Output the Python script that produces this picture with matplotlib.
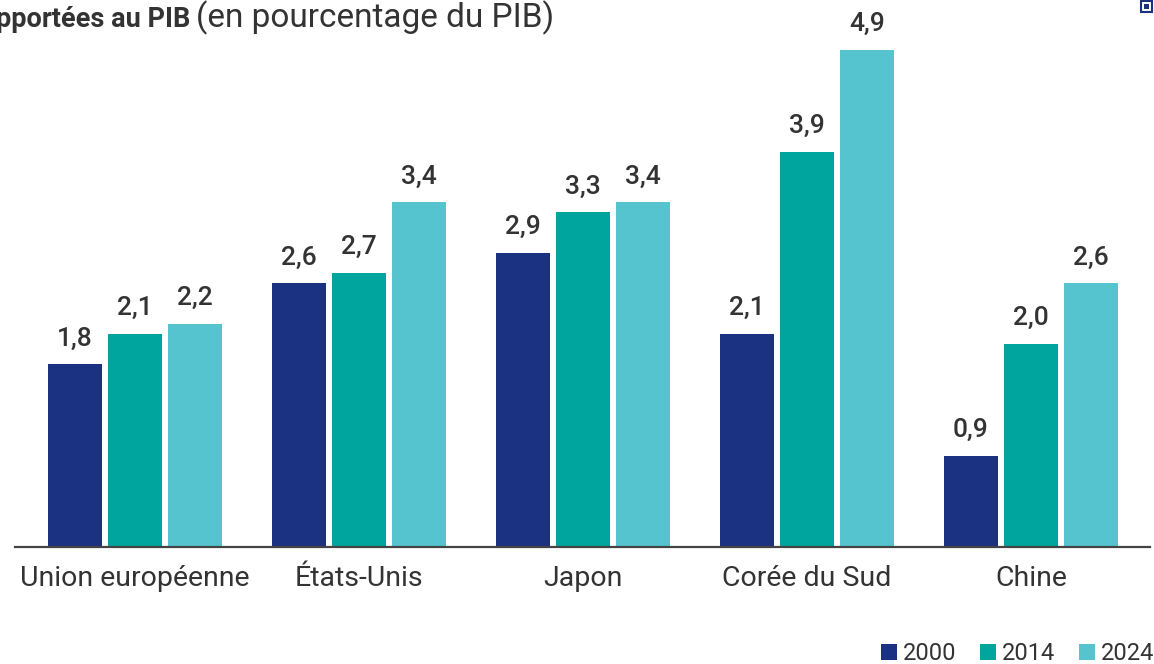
import numpy as np
import matplotlib
matplotlib.use('Agg')
import matplotlib.pyplot as plt
from matplotlib.patches import Rectangle

# données (en % du PIB)
pays = ['Union européenne', 'États-Unis', 'Japon', 'Corée du Sud', 'Chine']
annees = ['2000', '2014', '2024']
v2000 = [1.8, 2.6, 2.9, 2.1, 0.9]
v2014 = [2.1, 2.7, 3.3, 3.9, 2.0]
v2024 = [2.2, 3.4, 3.4, 4.9, 2.6]
couleurs = ['#1b3282', '#00a59d', '#55c4cf']

plt.rcParams['font.family'] = ['Roboto', 'DejaVu Sans']
gris = '#333333'

W, H = 1154, 664
fig = plt.figure(figsize=(W / 100, H / 100), dpi=100)
# axe: ligne de base a y=547 px, 101.4 px par point de PIB
ax = fig.add_axes([0, (H - 547) / H, 1, 547 / H])

x = np.arange(len(pays))
largeur = 54 / 224
pas = 60 / 224
series = [v2000, v2014, v2024]
for i, (vals, c, a) in enumerate(zip(series, couleurs, annees)):
    barres = ax.bar(x + (i - 1) * pas, vals, largeur, color=c, label=a)
    ax.bar_label(barres, labels=[f'{v:.1f}'.replace('.', ',') for v in vals],
                 padding=10, fontsize=19, fontweight='medium', color=gris)

# groupes espaces de 224 px, premier centre a x=135 px
ax.set_xlim(-135 / 224, (W - 135) / 224)
ax.set_ylim(0, 547 / 101.4)
ax.set_xticks(x)
ax.set_xticklabels(pays, fontsize=20.5, color=gris)
ax.tick_params(axis='x', length=0, pad=13)
ax.set_yticks([])
for s in ['top', 'right', 'left']:
    ax.spines[s].set_visible(False)
ax.spines['bottom'].set_color('#444444')
ax.spines['bottom'].set_linewidth(1.6)
ax.spines['bottom'].set_bounds(-120 / 224, 1015 / 224)
ax.patch.set_alpha(0)

# titre (debut coupe comme dans l'original)
fig.text(190 / W, 1 - 27 / H, 'pportées au PIB', ha='right', va='baseline',
         fontsize=19.5, fontweight='bold', color=gris)
fig.text(196 / W, 1 - 27 / H, '(en pourcentage du PIB)', ha='left', va='baseline',
         fontsize=24, color=gris)

# petite icone en haut a droite
fig.patches.append(Rectangle((1141 / W, 1 - 12 / H), 11 / W, 11 / H,
                             transform=fig.transFigure, facecolor='white',
                             edgecolor='#1b3282', linewidth=1.5))
fig.patches.append(Rectangle((1144 / W, 1 - 9 / H), 5 / W, 5 / H,
                             transform=fig.transFigure, facecolor='#1b3282',
                             edgecolor='none'))

fig.legend(loc='lower right', bbox_to_anchor=(1.0, -0.002), ncol=3,
           frameon=False, fontsize=17, labelcolor=gris,
           handlelength=0.68, handleheight=0.68, handletextpad=0.25,
           columnspacing=1.0, borderpad=0, borderaxespad=0)

fig.savefig('out.png', dpi=100)
